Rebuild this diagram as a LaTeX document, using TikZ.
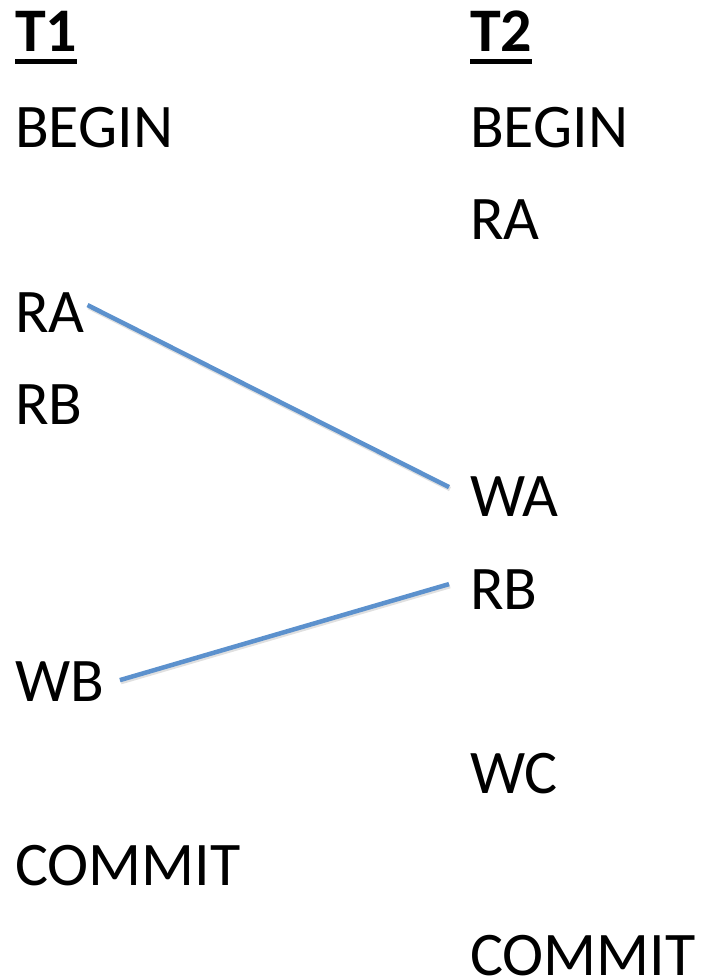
\documentclass[tikz,border=0pt]{standalone}
\usepackage{fontspec}
\setmainfont{Carlito}
\definecolor{linkblue}{RGB}{92,145,205}
\begin{document}
\begin{tikzpicture}[x=1pt,y=-1pt,
  lbl/.style={anchor=base west,inner sep=0pt,outer sep=0pt,font=\fontsize{62}{74}\selectfont},
  head/.style={lbl,font=\fontsize{62}{74}\selectfont\bfseries},
  link/.style={draw=linkblue,line width=4.5pt},
  linkshadow/.style={draw=black,line width=4.5pt,opacity=0.12}]
\useasboundingbox (0,0) rectangle (704,979);
% column T1
\node[head] (t1) at (15,52) {T1};
\node[lbl] (begin1) at (15,147) {BEGIN};
\node[lbl] (ra1) at (15,332) {RA};
\node[lbl] (rb1) at (15,424) {RB};
\node[lbl] (wb1) at (15,701) {WB};
\node[lbl] (commit1) at (15,885) {COMMIT};
% column T2
\node[head] (t2) at (470,52) {T2};
\node[lbl] (begin2) at (470,147) {BEGIN};
\node[lbl] (ra2) at (470,239) {RA};
\node[lbl] (wa2) at (470,516) {WA};
\node[lbl] (rb2) at (470,609) {RB};
\node[lbl] (wc2) at (470,793) {WC};
\node[lbl] (commit2) at (470,975) {COMMIT};
% underlines
\fill ([yshift=-7pt]t1.base west) rectangle ([yshift=-12pt]t1.base east);
\fill ([yshift=-7pt]t2.base west) rectangle ([yshift=-12pt]t2.base east);
% connectors
\coordinate (ra1e) at ([shift={(3pt,7pt)}]ra1.east);
\coordinate (wa2w) at ([shift={(-21pt,9pt)}]wa2.west);
\coordinate (rb2w) at ([shift={(-21pt,5pt)}]rb2.west);
\coordinate (wb1e) at ([shift={(16pt,1pt)}]wb1.east);
\draw[linkshadow] ([shift={(1pt,-2pt)}]ra1e) -- ([shift={(1pt,-2pt)}]wa2w);
\draw[linkshadow] ([shift={(1pt,-2pt)}]rb2w) -- ([shift={(1pt,-2pt)}]wb1e);
\draw[link] (ra1e) -- (wa2w);
\draw[link] (rb2w) -- (wb1e);
\end{tikzpicture}
\end{document}
